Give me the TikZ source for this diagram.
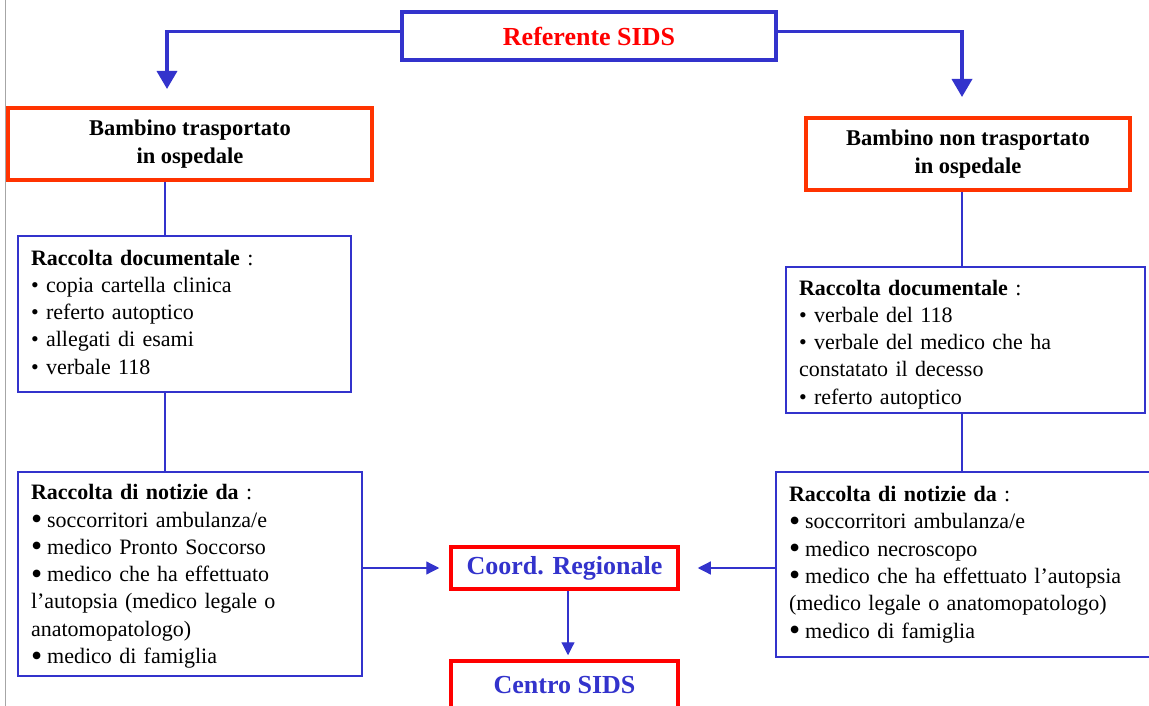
\documentclass[tikz,border=0pt]{standalone}
\usepackage{fontspec}
\setmainfont{Liberation Serif}
\usetikzlibrary{arrows.meta}
\definecolor{lineblue}{HTML}{3333CC}
\definecolor{orangered}{HTML}{FF3300}
\definecolor{purered}{HTML}{FF0000}
\newcommand{\bigbul}{\smash{\raisebox{-2.5pt}{\scalebox{1.45}{\textbullet}}}\hspace{5pt}}
\tikzset{
  topbox/.style={draw=lineblue, line width=3.5pt, fill=white, text=purered,
    font=\fontsize{26}{30}\selectfont\bfseries, inner sep=0pt},
  casebox/.style={draw=orangered, line width=4pt, fill=white, align=center,
    font=\fontsize{22.5}{28}\selectfont\bfseries, inner sep=0pt},
  infobox/.style={draw=lineblue, line width=1.2pt, fill=white, align=left,
    font=\fontsize{22}{27.3}\selectfont, inner xsep=13pt, inner ysep=0pt},
  centbox/.style={draw=purered, line width=3.5pt, fill=white, text=lineblue,
    font=\fontsize{26}{30}\selectfont\bfseries, inner sep=0pt},
  bigarrow/.style={draw=lineblue, line width=3.5pt,
    -{Triangle[length=18pt,width=20pt]}},
  thinline/.style={draw=lineblue, line width=1.2pt},
  thinarrow/.style={draw=lineblue, line width=1.2pt,
    -{Triangle[length=13pt,width=13pt]}}
}
\begin{document}
\begin{tikzpicture}[x=1pt,y=-1pt]
\useasboundingbox (0,0) rectangle (1149,706);
\clip (0,0) rectangle (1149,706);
\fill[white] (0,0) rectangle (1149,706);
\draw[gray!70, line width=1pt] (5.5,0) -- (5.5,706);

\node[topbox, minimum width=374pt, minimum height=48pt] (ref) at (589,36) {Referente SIDS};

\node[casebox, minimum width=364pt, minimum height=72pt] (bambL) at (190,144)
  {Bambino trasportato\\in ospedale};
\node[casebox, minimum width=324pt, minimum height=72pt] (bambR) at (968,154)
  {Bambino non trasportato\\in ospedale};

\node[infobox, text width=307pt, minimum height=156pt] (docL) at (184.5,314) {%
\textbf{Raccolta documentale} :\\
\textbullet\ copia cartella clinica\\
\textbullet\ referto autoptico\\
\textbullet\ allegati di esami\\
\textbullet\ verbale 118\rule[-4pt]{0pt}{4pt}};

\node[infobox, text width=318pt, minimum height=204pt] (notL) at (190,574) {%
\rule{0pt}{20pt}\textbf{Raccolta di notizie da} :\\
\bigbul soccorritori ambulanza/e\\
\bigbul medico Pronto Soccorso\\
\bigbul medico che ha effettuato\\
l’autopsia (medico legale o\\
anatomopatologo)\\
\bigbul medico di famiglia};

\node[infobox, text width=333pt, minimum height=146pt] (docR) at (965.5,340) {%
\rule{0pt}{24pt}\textbf{Raccolta documentale} :\\
\textbullet\ verbale del 118\\
\textbullet\ verbale del medico che ha\\
constatato il decesso\\
\textbullet\ referto autoptico};

\node[infobox, text width=358pt, minimum height=185pt] (notR) at (968,564.5) {%
\textbf{Raccolta di notizie da} :\\
\bigbul soccorritori ambulanza/e\\
\bigbul medico necroscopo\\
\bigbul medico che ha effettuato l’autopsia\\
(medico legale o anatomopatologo)\\
\bigbul medico di famiglia\rule[-3pt]{0pt}{3pt}};

\node[centbox, minimum width=227pt, minimum height=42pt] (coord) at (564.5,568) {Coord. Regionale};
\node[centbox, minimum width=227pt, minimum height=50pt] (centro) at (564.5,686)
  {\raisebox{2pt}{Centro SIDS}};

% thick arrows from the top box
\draw[bigarrow, shorten >=17pt] ([yshift=4.3pt]ref.west) -| ([xshift=-23pt]bambL.north);
\draw[bigarrow, shorten >=19pt] ([yshift=4.3pt]ref.east) -| ([xshift=-6pt]bambR.north);

% thin vertical connectors
\draw[thinline] ([xshift=-25pt]bambL.south) -- ([xshift=-25pt]bambL.south |- docL.north);
\draw[thinline] ([xshift=-19.5pt]docL.south) -- ([xshift=-19.5pt]docL.south |- notL.north);
\draw[thinline] ([xshift=-6pt]bambR.south) -- ([xshift=-6pt]bambR.south |- docR.north);
\draw[thinline] ([xshift=-3.5pt]docR.south) -- ([xshift=-3.5pt]docR.south |- notR.north);

% arrows to the regional coordinator and to the centre
\draw[thinarrow, shorten >=10pt] (notL.east |- coord.west) -- (coord.west);
\draw[thinarrow, shorten >=18pt] (notR.west |- coord.east) -- (coord.east);
\draw[thinarrow, shorten >=4pt] ([xshift=3.5pt]coord.south) -- ([xshift=3.5pt]centro.north);
\end{tikzpicture}
\end{document}
